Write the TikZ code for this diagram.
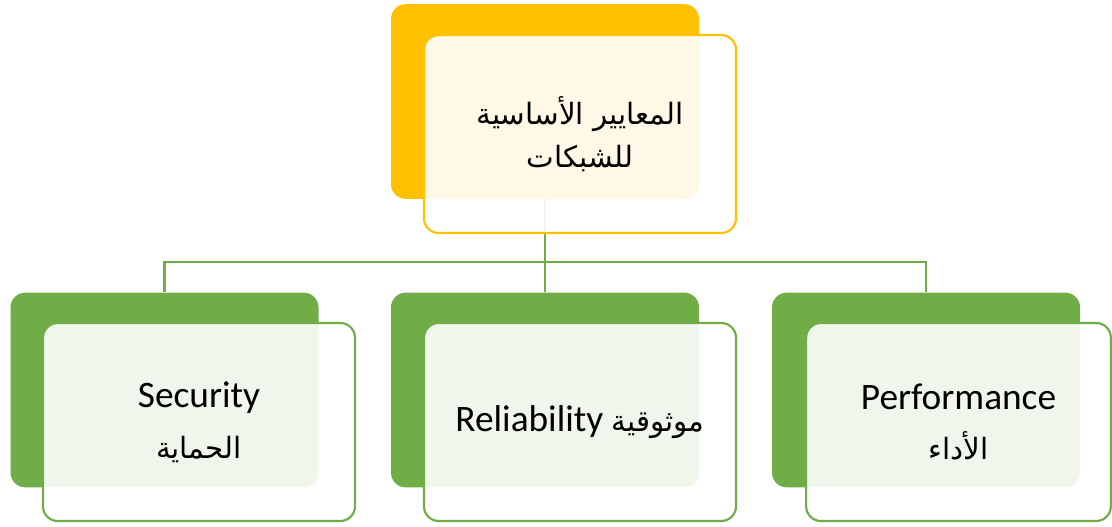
\documentclass[tikz,border=0pt]{standalone}
\usepackage{fontspec}
\setmainfont{Carlito}
\newfontfamily\arabicfont[Script=Arabic]{DejaVu Sans}
\TeXXeTstate=1
\usetikzlibrary{calc}
\usetikzlibrary{positioning}
\usetikzlibrary{backgrounds}
\definecolor{gold}{HTML}{FFC000}
\definecolor{leaf}{HTML}{70AD47}
\newcommand{\arabtext}[1]{{\arabicfont\beginR #1\endR}}
\tikzset{
backbox/.style={rectangle,rounded corners=11pt,minimum width=231pt,minimum height=146pt,inner sep=0pt,anchor=center},
frontbox/.style={backbox,draw,line width=1.6pt,minimum width=234pt,minimum height=148.5pt,fill=white,fill opacity=0.9,text opacity=1,align=center,text=black,font=\fontsize{28}{38}\selectfont},
headback/.style={backbox,fill=gold},
headfront/.style={frontbox,draw=gold,font=\fontsize{22}{32}\selectfont},
itemback/.style={backbox,fill=leaf},
itemfront/.style={frontbox,draw=leaf},
link/.style={leaf,line width=1.6pt}
}

\begin{document}
\begin{tikzpicture}[x=0.75pt,y=-0.75pt]
    \useasboundingbox (0,0) rectangle (1112,526);
    %
    \node[headback](netback) at (545,101.5) {};
    \node[headfront](net) at ($(netback)+(35,32.5)$) {\arabtext{المعايير الأساسية}\\\arabtext{للشبكات}};
    %
    \node[itemback](secback) at (164.5,390) {};
    \node[itemfront](sec) at ($(secback)+(34.5,32)$) {Security\\\arabtext{\fontsize{22}{30}\selectfont الحماية}};
    \node[itemback](relback) at (545,390) {};
    \node[itemfront](rel) at ($(relback)+(35,32)$) {Reliability \arabtext{\fontsize{22}{30}\selectfont موثوقية}};
    \node[itemback](perfback) at (926,390) {};
    \node[itemfront,minimum width=228.5pt](perf) at ($(perfback)+(32.5,32)$) {Performance\\\arabtext{\fontsize{22}{30}\selectfont الأداء}};
    %
    \begin{scope}[on background layer]
    \coordinate (bus) at (545,262);
    \draw[link] (netback.south) -- (bus);
    \foreach \v in {secback,relback,perfback}
    \draw[link] (bus) -| (\v.north);
    \end{scope}
\end{tikzpicture}
\end{document}
